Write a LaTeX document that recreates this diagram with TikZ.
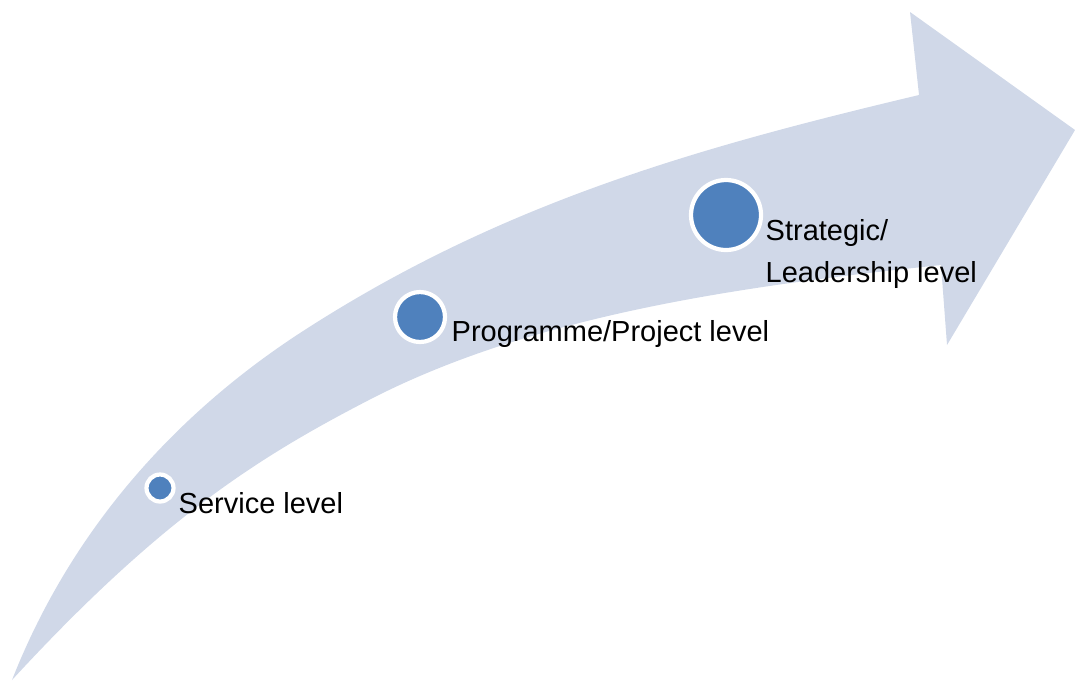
\documentclass[tikz,border=0pt]{standalone}
\usepackage{fontspec}
\setmainfont{Liberation Sans}
\definecolor{band}{HTML}{D0D8E8}
\definecolor{dot}{HTML}{4F81BD}

\begin{document}
\begin{tikzpicture}

\tikzstyle{level}=[circle,fill=dot,draw=white,line width=1.2pt,inner sep=0pt]
\tikzstyle{small level}=[level,minimum size=0.27cm]
\tikzstyle{middle level}=[level,minimum size=0.50cm]
\tikzstyle{big level}=[level,minimum size=0.70cm]
\tikzstyle{caption}=[anchor=base west,inner sep=0pt,align=left,font=\fontsize{8.25}{11.95}\selectfont]

\useasboundingbox(0,0)rectangle(10.75,6.8);

% curved arrow
\fill[band](0.12,0)..controls(0.75,1.6)and(1.85,2.72)..(3.0,3.47)
  ..controls(5.0,4.77)and(6.96,5.32)..(9.19,5.85)
  --(9.10,6.68)--(10.75,5.50)--(9.47,3.35)--(9.41,4.15)
  ..controls(7.52,3.95)and(5.36,3.67)..(3.67,2.79)
  ..controls(2.61,2.24)and(1.62,1.63)..(0.12,0)--cycle;

\node[small level](s1)at(1.60,1.92){};
\node[middle level](s2)at(4.20,3.63){};
\node[big level](s3)at(7.26,4.65){}; % largest dot

\node[caption](t1)at(1.78,1.67){Service level};
\node[caption](t2)at(4.51,3.39){Programme/Project level};
\node[caption](t3)at(7.65,3.98){Strategic/\\Leadership level}; % base = last line

\end{tikzpicture}
\end{document}
